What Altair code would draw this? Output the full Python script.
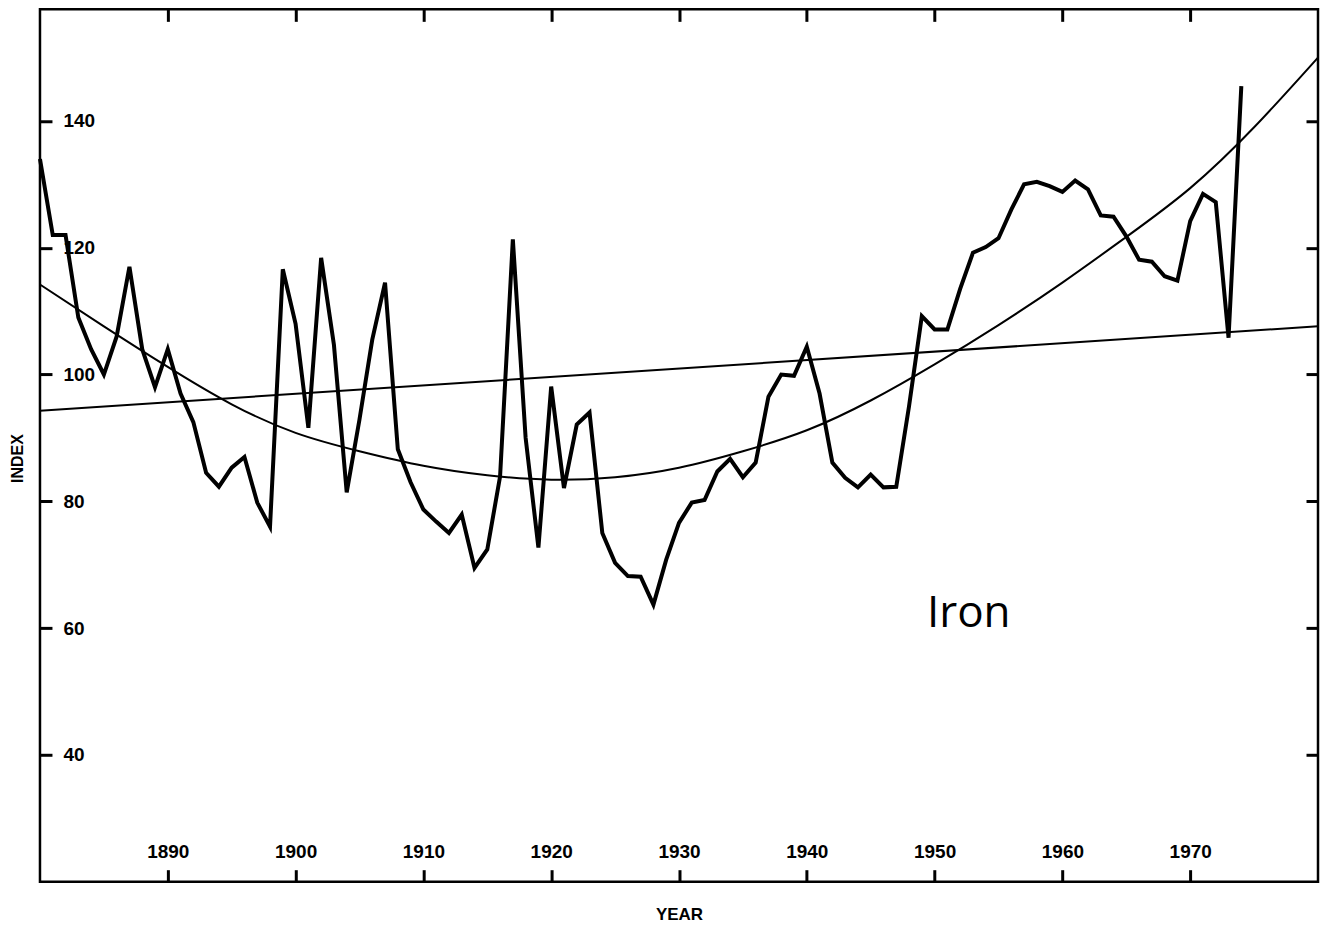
import altair as alt
import pandas as pd

# ---------------- data ----------------
years = list(range(1880, 1975))
index_values = [
    134, 122, 122, 109, 104, 100, 106, 117, 104, 98,        # 1880-1889
    104, 97, 92.5, 84.5, 82.3, 85.3, 87, 79.8, 76, 116.6,   # 1890-1899
    108, 91.6, 118.4, 104.7, 81.4, 92.9, 105.5, 114.5, 88.2, 83,  # 1900-1909
    78.7, 76.8, 75, 77.9, 69.5, 72.4, 83.9, 121.3, 90, 72.7,      # 1910-1919
    98.1, 82.1, 92.1, 94, 75, 70.3, 68.2, 68.1, 63.7, 70.8,       # 1920-1929
    76.6, 79.8, 80.2, 84.7, 86.7, 83.8, 86.1, 96.5, 100, 99.8,    # 1930-1939
    104.4, 97, 86.1, 83.7, 82.2, 84.2, 82.2, 82.3, 95, 109.2,     # 1940-1949
    107.1, 107.1, 113.5, 119.2, 120.1, 121.5, 126, 130, 130.4, 129.7,  # 1950-1959
    128.8, 130.6, 129.2, 125.1, 124.9, 121.8, 118.1, 117.8, 115.5, 114.8,  # 1960-1969
    124.2, 128.5, 127.2, 105.8, 145.5,                            # 1970-1974
]

curve_years = [1880, 1885, 1890, 1895, 1900, 1905, 1910, 1915, 1920, 1925,
               1930, 1935, 1940, 1945, 1950, 1955, 1960, 1965, 1970, 1975, 1980]
curve_values = [114.2, 107.6, 101.2, 95.3, 90.8, 87.9, 85.6, 84.1, 83.4, 83.8,
                85.3, 87.9, 91.2, 95.9, 101.6, 107.8, 114.5, 121.7, 129.4, 139, 150]

linear_years = [1880, 1980]
linear_values = [94.3, 107.6]

x_ticks = [1890, 1900, 1910, 1920, 1930, 1940, 1950, 1960, 1970]
y_ticks = [40, 60, 80, 100, 120, 140]

label_text = ["Iron"]
label_year = [1949.4]
label_value = [60.2]

# ---------------- tables ----------------
df_main = pd.DataFrame({"year": years, "value": index_values})
df_curve = pd.DataFrame({"year": curve_years, "value": curve_values})
df_lin = pd.DataFrame({"year": linear_years, "value": linear_values})
df_lab = pd.DataFrame({"year": label_year, "value": label_value, "label": label_text})

X_DOMAIN = [1880, 1980]
Y_DOMAIN = [20, 157.6]

def xs():
    return alt.Scale(domain=X_DOMAIN, nice=False, zero=False)

def ys():
    return alt.Scale(domain=Y_DOMAIN, nice=False, zero=False)

FONT = "Liberation Sans, Arial, sans-serif"

bottom_axis = alt.Axis(
    orient="bottom", values=x_ticks, format="d", grid=False, domain=False,
    offset=-12, tickSize=12, tickWidth=3, tickColor="black",
    labelFont=FONT, labelFontSize=19, labelFontWeight="bold", labelColor="black",
    labelBaseline="middle", labelPadding=-30.5, labelFlush=False, labelOverlap=False,
    title="YEAR", titleFont=FONT, titleFontSize=17, titleFontWeight="bold",
    titleColor="black", titleBaseline="middle", titleY=45,
)

left_axis = alt.Axis(
    orient="left", values=y_ticks, format="d", grid=False, domain=False,
    offset=-12, tickSize=12, tickWidth=3, tickColor="black",
    labelFont=FONT, labelFontSize=19, labelFontWeight="bold", labelColor="black",
    labelAlign="left", labelBaseline="middle", labelPadding=-23, labelOverlap=False,
    title="INDEX", titleFont=FONT, titleFontSize=16, titleFontWeight="bold",
    titleColor="black", titleAngle=270, titleAlign="center", titleBaseline="middle",
    titleX=-34, titleY=449,
)

top_axis = alt.Axis(
    orient="top", values=x_ticks, grid=False, domain=False, labels=False,
    offset=-12, tickSize=12, tickWidth=3, tickColor="black", title=None,
)

right_axis = alt.Axis(
    orient="right", values=y_ticks, grid=False, domain=False, labels=False,
    offset=-12, tickSize=12, tickWidth=3, tickColor="black", title=None,
)

main = alt.Chart(df_main).mark_line(color="black", strokeWidth=4).encode(
    x=alt.X("year:Q", scale=xs(), axis=bottom_axis),
    y=alt.Y("value:Q", scale=ys(), axis=left_axis),
)

curve = alt.Chart(df_curve).mark_line(color="black", strokeWidth=2, interpolate="natural").encode(
    x=alt.X("year:Q", scale=xs(), axis=top_axis),
    y=alt.Y("value:Q", scale=ys(), axis=right_axis),
)

lin = alt.Chart(df_lin).mark_line(color="black", strokeWidth=2).encode(
    x=alt.X("year:Q", scale=xs(), axis=None),
    y=alt.Y("value:Q", scale=ys(), axis=None),
)

txt = alt.Chart(df_lab).mark_text(
    align="left", baseline="alphabetic", font="Open Sans", fontSize=44, color="black"
).encode(
    x=alt.X("year:Q", scale=xs(), axis=None),
    y=alt.Y("value:Q", scale=ys(), axis=None),
    text="label:N",
)

chart = (
    alt.layer(main, curve, lin, txt)
    .resolve_scale(x="independent", y="independent")
    .properties(
        width=1279, height=873,
        padding={"left": 32, "top": 1, "right": 4, "bottom": 45},
        autosize=alt.AutoSizeParams(type="none"),
        background="white",
    )
    .configure_view(stroke="black", strokeWidth=2.5)
)

chart.save("out.html", embed_options={"renderer": "svg", "actions": False})
